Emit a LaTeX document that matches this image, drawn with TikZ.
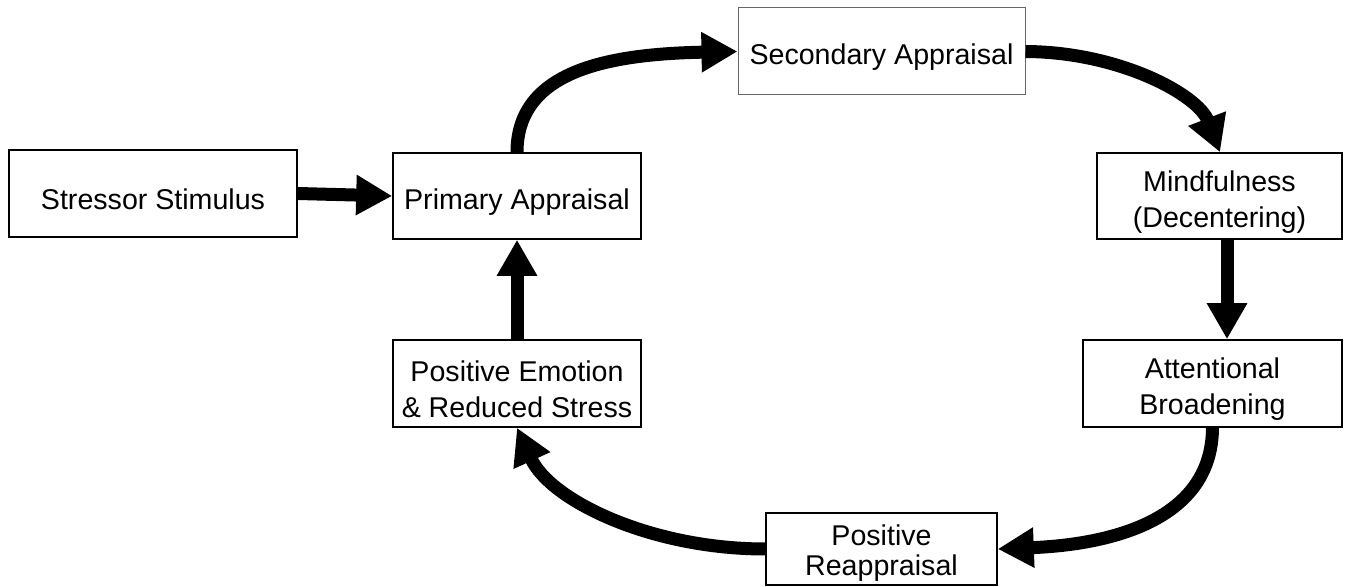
\documentclass[tikz,border=0pt]{standalone}
\usepackage{fontspec}
\setmainfont{Liberation Sans}
\usetikzlibrary{arrows.meta}
\newcommand\flowbox[7][]{%
  \node[box,#1,minimum width=#5pt,minimum height=#6pt] (#2) at (#3,#4) {};
  \node[boxtext] (#2text) at ([yshift=-3pt]#2.center) {#7};}
\begin{document}
\begin{tikzpicture}[x=0.5pt,y=-0.5pt,
  box/.style={draw=black,line width=0.8pt,fill=white,inner sep=0pt},
  boxtext/.style={inner sep=0pt,align=center,font=\fontsize{14.3}{18}\selectfont},
  flow/.style={line width=6.5pt,-{Triangle[length=18pt,width=19pt]}}]
\useasboundingbox (0,0) rectangle (1351,587);
\flowbox{stress}{153}{193.5}{144}{43.5}{Stressor Stimulus}
\flowbox{primary}{517}{196}{124}{43}{Primary Appraisal}
\flowbox[draw=black!60,line width=0.5pt]{secondary}{881.5}{51.5}{143.5}{43.5}{Secondary Appraisal}
\flowbox{mind}{1219.5}{196}{122.5}{43}{Mindfulness\\(Decentering)}
\flowbox{attn}{1212.5}{383.5}{129.5}{43.5}{Attentional\\Broadening}
\node[box,minimum width=115.5pt,minimum height=36pt] (reapp) at (881.5,549) {};
\node[boxtext,font=\fontsize{14.3}{15}\selectfont] (reapptext) at (881.5,553) {Positive\\Reappraisal};
\flowbox{posem}{517}{383.5}{124}{43.5}{Positive Emotion\\\& Reduced Stress}

\draw[flow] (stress.east) -- (primary.west);
\draw[flow] (primary.north) .. controls (517,70) and (610,54) .. (secondary.west);
\draw[flow] (secondary.east) .. controls (1120,52) and (1198,95) .. ([xshift=0.25pt]mind.north);
\draw[flow] ([xshift=3.75pt]mind.south) -- ([xshift=3.75pt]mind.south |- attn.north);
\draw[flow] (attn.south) .. controls (1212,525) and (1100,545) .. (reapp.east);
\draw[flow] (reapp.west) .. controls (650,549) and (550,500) .. (posem.south);
\draw[flow] (posem.north) -- (primary.south);
\end{tikzpicture}
\end{document}
